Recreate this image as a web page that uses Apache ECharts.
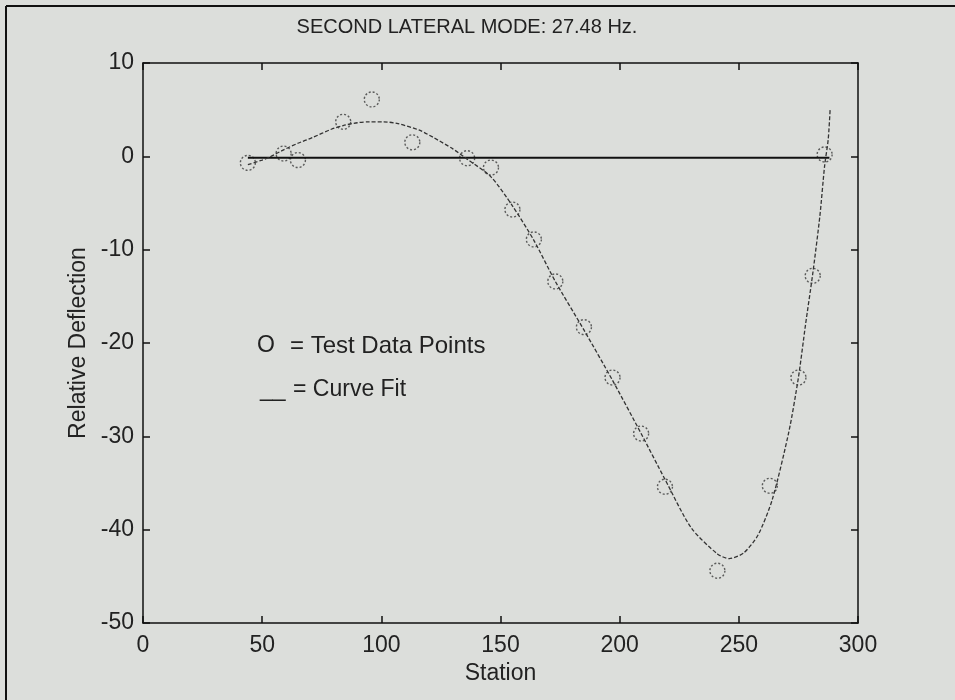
<!DOCTYPE html>
<html>
<head>
<meta charset="utf-8">
<script src="https://cdn.jsdelivr.net/npm/echarts@6/dist/echarts.min.js"></script>
<style>
  html, body { margin: 0; padding: 0; background: #dcdedb; }
  #chart { width: 955px; height: 700px; }
</style>
</head>
<body>
<div id="chart"></div>
<script>
// fitted curve
var curveX = [44, 50, 53, 59, 65, 71, 79, 84, 90, 95, 101, 107, 116, 122, 130, 136, 146, 155, 164, 173, 185, 197, 209, 219, 230, 241, 246, 252, 258, 264, 271, 275, 278, 281, 284, 286, 287.5, 288.3];
var curveY = [-0.9, -0.4, -0.1, 0.7, 1.4, 2.0, 2.9, 3.3, 3.6, 3.7, 3.7, 3.5, 2.8, 2.0, 0.8, -0.3, -2.2, -5.3, -9.0, -13.4, -18.6, -24.0, -29.7, -34.6, -39.8, -42.6, -43.1, -42.5, -40.6, -36.8, -29.5, -23.7, -18.0, -12.6, -6.4, -1.0, 1.8, 5.0];

// test data points
var ptX = [44, 59, 65, 84, 96, 113, 136, 146, 155, 164, 173, 185, 197, 209, 219, 241, 263, 275, 281, 286];
var ptY = [-0.7, 0.3, -0.4, 3.7, 6.1, 1.5, -0.2, -1.2, -5.7, -8.9, -13.4, -18.3, -23.7, -29.7, -35.4, -44.4, -35.3, -23.7, -12.8, 0.2];

// zero reference line
var baseX = [44, 288];
var baseY = [-0.15, -0.15];

var FONT = "'Liberation Sans', Arial, sans-serif";

function pairs(xs, ys) {
  return xs.map(function (x, i) { return [x, ys[i]]; });
}

var chart = echarts.init(document.getElementById("chart"));

var axisCommon = {
  axisLine: { show: true, onZero: false, lineStyle: { color: "#111", width: 1.5 } },
  axisTick: { show: true, inside: true, length: 7, lineStyle: { color: "#111", width: 1.5 } },
  splitLine: { show: false }
};

var option = {
  backgroundColor: "#dcdedb",
  animation: false,
  title: {
    text: "SECOND LATERAL MODE: 27.48 Hz.",
    left: 462,
    textAlign: "center",
    top: 12,
    textStyle: { fontFamily: FONT, fontSize: 20, fontWeight: "normal", color: "#222" }
  },
  grid: { left: 143, right: 97, top: 63, bottom: 77 },
  xAxis: [
    Object.assign({
      type: "value", min: 0, max: 300, interval: 50,
      name: "Station", nameLocation: "middle", nameGap: 36,
      nameTextStyle: { fontFamily: FONT, fontSize: 23, color: "#222" },
      axisLabel: { fontFamily: FONT, fontSize: 23, color: "#222", margin: 11 }
    }, axisCommon),
    Object.assign({
      type: "value", min: 0, max: 300, interval: 50, position: "top",
      axisLabel: { show: false }
    }, axisCommon)
  ],
  yAxis: [
    Object.assign({
      type: "value", min: -50, max: 10, interval: 10,
      name: "Relative Deflection", nameLocation: "middle", nameGap: 50,
      nameTextStyle: { fontFamily: FONT, fontSize: 23, color: "#222" },
      axisLabel: { fontFamily: FONT, fontSize: 23, color: "#222", margin: 9 }
    }, axisCommon),
    Object.assign({
      type: "value", min: -50, max: 10, interval: 10, position: "right",
      axisLabel: { show: false }
    }, axisCommon)
  ],
  graphic: [
    { type: "line", shape: { x1: 6, y1: 6, x2: 955, y2: 6 }, style: { stroke: "#111", lineWidth: 2 } },
    { type: "line", shape: { x1: 6, y1: 6, x2: 6, y2: 700 }, style: { stroke: "#111", lineWidth: 2 } },
    { type: "text", left: 257, top: 334, style: { text: "O", font: "23px " + FONT, fill: "#222" } },
    { type: "text", left: 290, top: 334, style: { text: "= Test Data Points", font: "24px " + FONT, fill: "#222" } },
    { type: "text", left: 260, top: 378, style: { text: "__", font: "23px " + FONT, fill: "#222" } },
    { type: "text", left: 293, top: 378, style: { text: "= Curve Fit", font: "23px " + FONT, fill: "#222" } }
  ],
  series: [
    {
      name: "zero",
      type: "line",
      data: pairs(baseX, baseY),
      showSymbol: false,
      lineStyle: { color: "#111", width: 2 }
    },
    {
      name: "Curve Fit",
      type: "line",
      data: pairs(curveX, curveY),
      smooth: 0.25,
      showSymbol: false,
      lineStyle: { color: "#333", width: 1.3, type: [4, 2] }
    },
    {
      name: "Test Data Points",
      type: "scatter",
      data: pairs(ptX, ptY),
      symbol: "circle",
      symbolSize: 15,
      itemStyle: { color: "transparent", borderColor: "#3a3a3a", borderWidth: 1.4, borderType: [2, 2] }
    }
  ]
};

chart.setOption(option);
</script>
</body>
</html>
